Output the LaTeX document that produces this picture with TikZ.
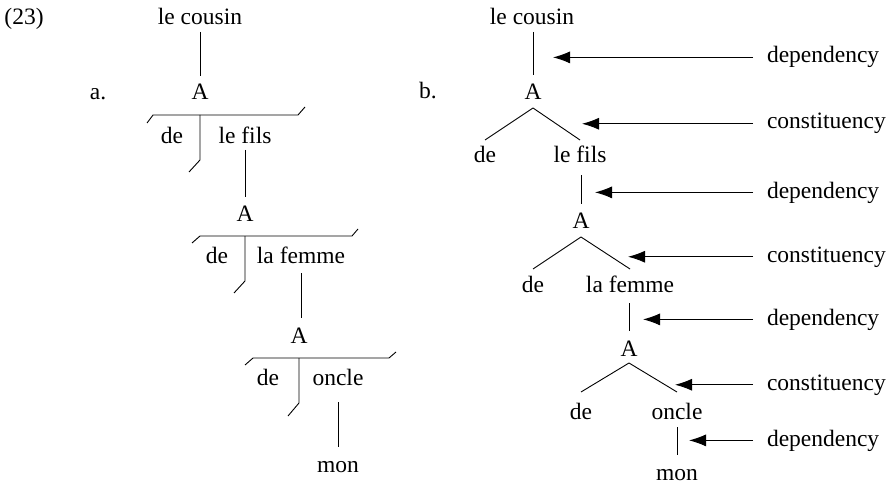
\documentclass[tikz,border=0pt]{standalone}
\usepackage{fontspec}
\setmainfont{Liberation Serif}
\usetikzlibrary{arrows.meta}
\begin{document}
\begin{tikzpicture}[x=1pt,y=-1pt,line width=0.9pt,
  every node/.style={font=\fontsize{23.5}{28}\selectfont,inner sep=0pt,outer sep=0pt,anchor=base},
  lbl/.style={anchor=base west},
  arr/.style={-{Latex[length=17pt,width=12pt]},shorten <=14pt}]
\useasboundingbox (0,0) rectangle (894,484);
% ---------- labels ----------
\node (n23) at (24,25) {(23)};
\node (la) at (98,100) {a.};
\node (lb) at (428,99) {b.};
% ---------- tree a ----------
\node (ac) at (200,25) {le cousin};
\node (aA1) at (200,100) {A};
\node (ade1) at (172,143) {de};
\node (afils) at (245,143) {le fils};
\node (aA2) at (245,221) {A};
\node (ade2) at (217,263) {de};
\node (afemme) at (301,263) {la femme};
\node (aA3) at (299,343) {A};
\node (ade3) at (268,385) {de};
\node (aoncle) at (338,385) {oncle};
\node (amon) at (338,472) {mon};
% dependency lines
\draw ([yshift=-7pt]ac.base) -- ([yshift=24pt]aA1.base);
\draw ([yshift=-7pt]afils.base -| afils.base) -- ([yshift=24pt]aA2.base -| afils.base);
\draw ([yshift=-10pt]afemme.base) -- ([yshift=25pt]aA3.base -| afemme.base);
\draw ([yshift=-17pt]aoncle.base) -- ([yshift=25pt]amon.base);
% bars
\draw ([xshift=-53pt,yshift=-23pt]aA1.base) -- ++(6,-8) -- ++(145,0) -- ++(7,-8);
\draw ([yshift=-15pt]aA1.base) -- ++(0,45) -- ++(-11,12);
\draw ([xshift=-53pt,yshift=-22pt]aA2.base) -- ++(8,-7) -- ++(152,0) -- ++(6,-7);
\draw ([yshift=-15pt]aA2.base) -- ++(0,45) -- ++(-11,12);
\draw ([xshift=-54pt,yshift=-22pt]aA3.base) -- ++(8,-7) -- ++(136,0) -- ++(7,-6);
\draw ([yshift=-15pt]aA3.base) -- ++(0,45) -- ++(-11,13);
% ---------- tree b ----------
\node (bc) at (532,25) {le cousin};
\node (bA1) at (533,100) {A};
\node (bde1) at (485,163) {de};
\node (bfils) at (580,163) {le fils};
\node (bA2) at (581,228) {A};
\node (bde2) at (533,292) {de};
\node (bfemme) at (630,292) {la femme};
\node (bA3) at (629,356) {A};
\node (bde3) at (581,419) {de};
\node (boncle) at (677,419) {oncle};
\node (bmon) at (677,480) {mon};
\draw ([yshift=-7pt]bc.base -| bA1.base) -- ([yshift=25pt]bA1.base);
\draw ([yshift=-8pt]bA1.base) -- ([yshift=23pt]bde1.base);
\draw ([yshift=-8pt]bA1.base) -- ([yshift=23pt]bfils.base);
\draw ([yshift=-12pt]bfils.base -| bA2.base) -- ([yshift=24pt]bA2.base);
\draw ([yshift=-9pt]bA2.base) -- ([yshift=23pt]bde2.base);
\draw ([yshift=-9pt]bA2.base) -- ([yshift=23pt]bfemme.base);
\draw ([yshift=-11pt]bfemme.base -| bA3.base) -- ([yshift=25pt]bA3.base);
\draw ([yshift=-7pt]bA3.base) -- ([yshift=27pt]bde3.base);
\draw ([yshift=-7pt]bA3.base) -- ([yshift=27pt]boncle.base);
\draw ([yshift=-8pt]boncle.base) -- ([yshift=25pt]bmon.base);
% ---------- arrows ----------
\node[lbl] (l1) at (767,63) {dependency};
\node[lbl] (l2) at (767,129) {constituency};
\node[lbl] (l3) at (767,198) {dependency};
\node[lbl] (l4) at (767,262) {constituency};
\node[lbl] (l5) at (767,325) {dependency};
\node[lbl] (l6) at (767,390) {constituency};
\node[lbl] (l7) at (767,446) {dependency};
\coordinate (t1) at (553,58);
\coordinate (t2) at (582,124);
\coordinate (t3) at (595,193);
\coordinate (t4) at (628,257);
\coordinate (t5) at (643,320);
\coordinate (t6) at (675,385);
\coordinate (t7) at (689,441);
\foreach \i in {1,...,7}{\draw[arr] (l\i.west) -- (l\i.west -| t\i);}
\end{tikzpicture}
\end{document}
